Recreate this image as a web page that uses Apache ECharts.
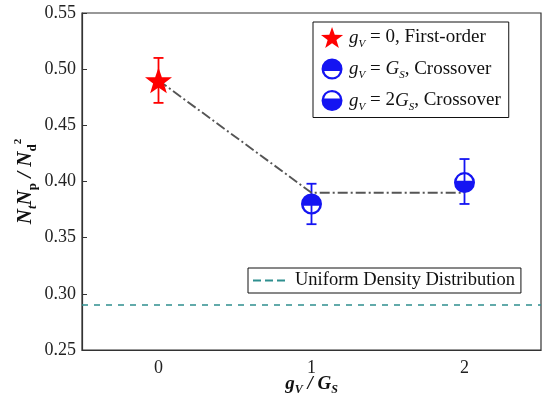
<!DOCTYPE html>
<html>
<head>
<meta charset="utf-8">
<script src="https://cdn.jsdelivr.net/npm/echarts@6/dist/echarts.min.js"></script>
<style>
html,body{margin:0;padding:0;background:#fff;}
#chart{width:547px;height:402px;}
</style>
</head>
<body>
<div id="chart"></div>
<script>
// ---- data ----
const xCategories = ['0', '1', '2'];
const firstOrderX = ['0'];
const firstOrderY = [0.49];
const firstOrderLo = [0.47];
const firstOrderHi = [0.51];
const crossGsX = ['1'];
const crossGsY = [0.38];
const crossGsLo = [0.362];
const crossGsHi = [0.398];
const cross2GsX = ['2'];
const cross2GsY = [0.399];
const cross2GsLo = [0.38];
const cross2GsHi = [0.42];
const guideY = [0.49, 0.39, 0.39];
const uniformDensity = [0.29];
const yMin = 0.25, yMax = 0.55, yStep = 0.05;

// ---- styling ----
const FONT = 'Liberation Serif';
const RED = '#ff0000';
const BLUE = '#1414f2';
const TEAL = '#2f8f8f';
const STAR = 'path://M10,0 L12.35,6.76 L19.51,6.91 L13.8,11.24 L15.88,18.09 L10,14 L4.12,18.09 L6.2,11.24 L0.49,6.91 L7.65,6.76 Z';
const HALF_TOP = 'path://M0,10 A10,10 0 1,1 20,10 A10,10 0 1,1 0,10 Z M2.55,11.8 A7.6,7.6 0 0,0 17.45,11.8 Z';
const HALF_BOTTOM = 'path://M0,10 A10,10 0 1,1 20,10 A10,10 0 1,1 0,10 Z M17.45,8.2 A7.6,7.6 0 0,0 2.55,8.2 Z';
const DASH_ICON = 'path://M0,0 H8 V2 H0 Z M12,0 H20 V2 H12 Z M24,0 H32 V2 H24 Z';

function pairs(xs, ys) { return xs.map((x, i) => [x, ys[i]]); }
function errData(xs, lo, hi) { return xs.map((x, i) => [x, lo[i], hi[i]]); }

function errorBarSeries(data, color) {
  return {
    type: 'custom',
    silent: true,
    z: 3,
    data: data,
    encode: { x: 0, y: [1, 2] },
    renderItem: function (params, api) {
      const x = api.value(0);
      const lo = api.coord([x, api.value(1)]);
      const hi = api.coord([x, api.value(2)]);
      const cap = 5;
      const st = { stroke: color, lineWidth: 1.8 };
      return {
        type: 'group',
        children: [
          { type: 'line', shape: { x1: lo[0], y1: lo[1], x2: hi[0], y2: hi[1] }, style: st },
          { type: 'line', shape: { x1: lo[0] - cap, y1: lo[1], x2: lo[0] + cap, y2: lo[1] }, style: st },
          { type: 'line', shape: { x1: hi[0] - cap, y1: hi[1], x2: hi[0] + cap, y2: hi[1] }, style: st }
        ]
      };
    }
  };
}

const rich = {
  i: { fontFamily: FONT, fontStyle: 'italic', fontSize: 19, color: '#111', lineHeight: 22, verticalAlign: 'middle' },
  n: { fontFamily: FONT, fontSize: 19, color: '#111', lineHeight: 22, verticalAlign: 'middle' },
  s: { fontFamily: FONT, fontStyle: 'italic', fontSize: 11, color: '#111', lineHeight: 24, verticalAlign: 'bottom' }
};

const chart = echarts.init(document.getElementById('chart'), null, { renderer: 'canvas' });
chart.setOption({
  animation: false,
  backgroundColor: '#fff',
  grid: { left: 82, right: 6, top: 13, bottom: 52, containLabel: false, outerBoundsMode: 'none', show: true, borderColor: '#333', borderWidth: 1.2, backgroundColor: 'transparent' },
  xAxis: {
    type: 'category',
    data: xCategories,
    boundaryGap: true,
    axisLine: { lineStyle: { color: '#333', width: 1.2 } },
    axisTick: { inside: true, alignWithLabel: true, length: 5, lineStyle: { color: '#333' } },
    axisLabel: { fontFamily: FONT, fontSize: 18, color: '#222', margin: 9 },
    splitLine: { show: false },
    name: '{b|g}{bs|V}{b| / G}{bs|S}',
    nameLocation: 'middle',
    nameGap: 22,
    nameMoveOverlap: false,
    nameTextStyle: {
      rich: {
        b: { fontFamily: FONT, fontStyle: 'italic', fontWeight: 'bold', fontSize: 19, color: '#111', lineHeight: 22, verticalAlign: 'middle' },
        bs: { fontFamily: FONT, fontStyle: 'italic', fontWeight: 'bold', fontSize: 12, color: '#111', lineHeight: 24, verticalAlign: 'bottom' }
      }
    }
  },
  yAxis: {
    type: 'value',
    min: yMin, max: yMax, interval: yStep,
    axisLine: { show: true, lineStyle: { color: '#333', width: 1.2 } },
    axisTick: { show: true, inside: true, length: 5, lineStyle: { color: '#333' } },
    axisLabel: { fontFamily: FONT, fontSize: 18, color: '#222', margin: 6, formatter: v => v.toFixed(2) },
    splitLine: { show: false },
    name: '{b|N}{bs|t}{b|N}{r|p}{b| / N}{r|d}{sup|2}',
    nameLocation: 'middle',
    nameGap: 43,
    nameMoveOverlap: false,
    nameRotate: 90,
    nameTextStyle: {
      rich: {
        b: { fontFamily: FONT, fontStyle: 'italic', fontWeight: 'bold', fontSize: 21, color: '#111', lineHeight: 24, verticalAlign: 'middle' },
        bs: { fontFamily: FONT, fontStyle: 'italic', fontWeight: 'bold', fontSize: 13, color: '#111', lineHeight: 26, verticalAlign: 'bottom' },
        r: { fontFamily: FONT, fontWeight: 'bold', fontSize: 13, color: '#111', lineHeight: 26, verticalAlign: 'bottom' },
        sup: { fontFamily: FONT, fontWeight: 'bold', fontSize: 11, color: '#111', lineHeight: 24, verticalAlign: 'top' }
      }
    }
  },
  legend: [
    {
      data: ['first', 'gs', 'g2s'],
      orient: 'vertical',
      left: 313, top: 22,
      padding: [5, 8, 5, 8],
      itemGap: 9,
      itemWidth: 24, itemHeight: 21,
      borderColor: '#111', borderWidth: 1,
      backgroundColor: '#fff',
      selectedMode: false,
      formatter: function (name) {
        if (name === 'first') return '{i|g}{s|V}{n| = 0, First-order}';
        if (name === 'gs') return '{i|g}{s|V}{n| = }{i|G}{s|S}{n|, Crossover}';
        return '{i|g}{s|V}{n| = 2}{i|G}{s|S}{n|, Crossover}';
      },
      textStyle: { rich: rich }
    },
    {
      data: [{ name: 'Uniform Density Distribution', icon: DASH_ICON }],
      left: 248, top: 268,
      padding: [3, 6, 3, 5],
      itemWidth: 32, itemHeight: 2,
      borderColor: '#111', borderWidth: 1,
      backgroundColor: '#fff',
      selectedMode: false,
      textStyle: { fontFamily: FONT, fontSize: 18.5, color: '#111', padding: [0, 0, 0, 5] }
    }
  ],
  series: [
    {
      name: 'Uniform Density Distribution',
      type: 'line',
      data: [],
      symbol: 'none',
      lineStyle: { color: TEAL, width: 1.6, type: [6, 6] },
      itemStyle: { color: TEAL },
      markLine: {
        silent: true,
        symbol: 'none',
        label: { show: false },
        lineStyle: { color: TEAL, width: 1.6, type: [6, 6] },
        data: uniformDensity.map(v => ({ yAxis: v }))
      }
    },
    {
      name: 'guide',
      type: 'line',
      data: guideY,
      symbol: 'none',
      z: 4,
      lineStyle: { color: '#555', width: 1.9, type: [10, 3, 2, 3] }
    },
    errorBarSeries(errData(firstOrderX, firstOrderLo, firstOrderHi), RED),
    errorBarSeries(errData(crossGsX, crossGsLo, crossGsHi), BLUE),
    errorBarSeries(errData(cross2GsX, cross2GsLo, cross2GsHi), BLUE),
    {
      name: 'first', type: 'scatter', z: 5,
      data: pairs(firstOrderX, firstOrderY),
      symbol: STAR, symbolSize: 27, symbolKeepAspect: true,
      itemStyle: { color: RED, opacity: 1 }
    },
    {
      name: 'gs', type: 'scatter', z: 5,
      data: pairs(crossGsX, crossGsY),
      symbol: HALF_TOP, symbolSize: 21, symbolKeepAspect: true,
      itemStyle: { color: BLUE, opacity: 1 }
    },
    {
      name: 'g2s', type: 'scatter', z: 5,
      data: pairs(cross2GsX, cross2GsY),
      symbol: HALF_BOTTOM, symbolSize: 21, symbolKeepAspect: true,
      itemStyle: { color: BLUE, opacity: 1 }
    }
  ]
});
</script>
</body>
</html>
